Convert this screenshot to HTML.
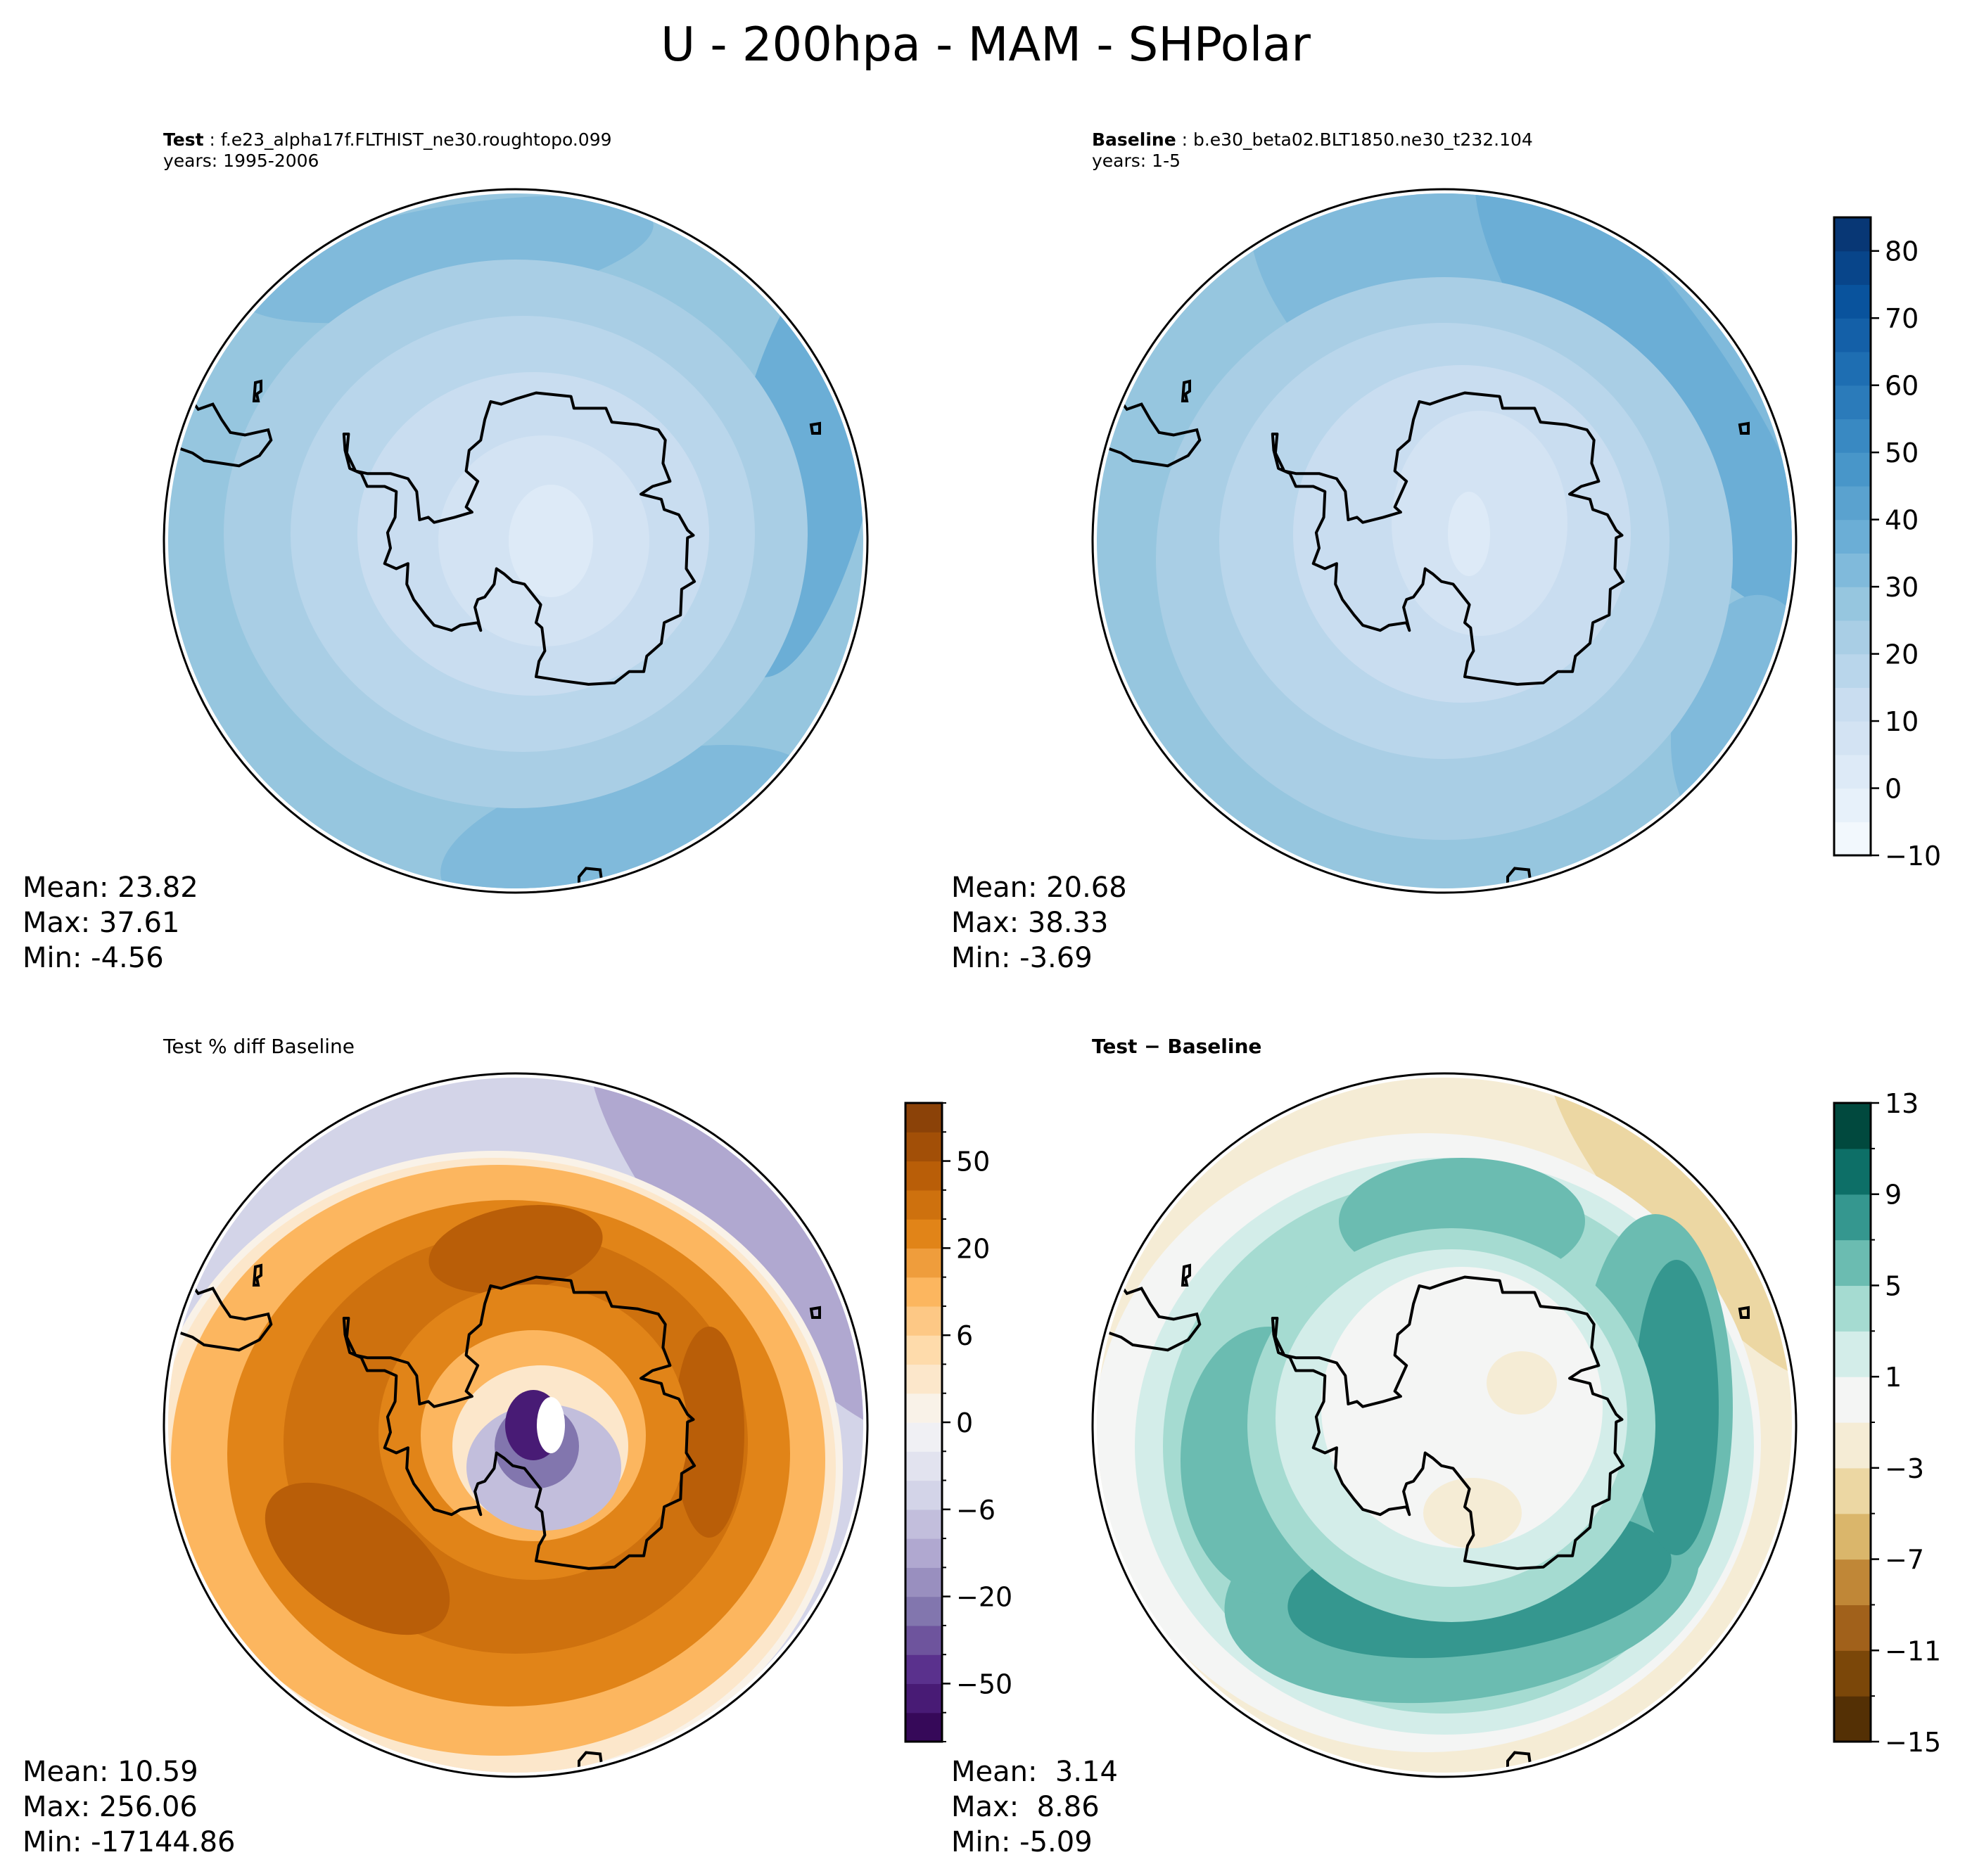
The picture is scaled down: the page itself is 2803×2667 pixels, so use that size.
<!DOCTYPE html>
<html><head><meta charset="utf-8">
<style>
html,body{margin:0;padding:0;background:#fff;}
svg{display:block;font-family:"DejaVu Sans","Liberation Sans",sans-serif;}
</style></head>
<body>
<svg id="fig" width="2803" height="2667" viewBox="0 0 2803 2667" xmlns="http://www.w3.org/2000/svg">
<text x="1401" y="86" text-anchor="middle" font-size="67" fill="#000">U - 200hpa - MAM - SHPolar</text>
<text x="232" y="207" font-size="25"><tspan font-weight="bold">Test</tspan> : f.e23_alpha17f.FLTHIST_ne30.roughtopo.099</text>
<text x="232" y="237" font-size="25">years: 1995-2006</text>
<text x="1552" y="207" font-size="25"><tspan font-weight="bold">Baseline</tspan> : b.e30_beta02.BLT1850.ne30_t232.104</text>
<text x="1552" y="237" font-size="25">years: 1-5</text>
<text x="232" y="1497" font-size="28">Test % diff Baseline</text>
<text x="1552" y="1497" font-size="28" font-weight="bold">Test − Baseline</text>
<g id="maps"></g>
<g id="bars"></g>
<g id="stats"></g>
</svg>
<script>
// ---- colorbar data ----
const blueLevels = [-10,-5,0,5,10,15,20,25,30,35,40,45,50,55,60,65,70,75,80,85];
const blueTicks = [-10,0,10,20,30,40,50,60,70,80];
const pctLevels = [-100,-75,-50,-40,-30,-20,-15,-10,-6,-4,-2,0,2,4,6,10,15,20,30,40,50,75,100];
const pctTicks = [-50,-20,-6,0,6,20,50];
const diffLevels = [-15,-13,-11,-9,-7,-5,-3,-1,1,3,5,7,9,11,13];
const diffTicks = [-15,-11,-7,-3,1,5,9,13];
const diffColors = ['#543005','#7b4709','#a1611b','#c08737','#dab66b','#ecd7a3','#f5ecd5','#f4f5f4','#d3ede9','#a5dbd1','#6bbcb1','#35978f','#0d6f67','#01493e'];
// ---- stats ----
const statsTest = ['Mean: 23.82','Max: 37.61','Min: -4.56'];
const statsBase = ['Mean: 20.68','Max: 38.33','Min: -3.69'];
const statsPct = ['Mean: 10.59','Max: 256.06','Min: -17144.86'];
const statsDiff = ['Mean:  3.14','Max:  8.86','Min: -5.09'];
// ---- contour blobs: [value, cx, cy, rx, ry, rotation] (normalized to map radius) ----
const fieldTest = [[27,0,0,1.2,1.2,0],[37,0.82,-0.22,0.2,0.62,12],[32,0.32,0.82,0.55,0.2,-15],[32,-0.2,-0.8,0.6,0.15,-10],
 [22,0,-0.02,0.83,0.78,0],[17,0.02,-0.02,0.66,0.62,0],[12,0.05,-0.02,0.5,0.46,0],[7,0.08,0,0.3,0.3,0],[2,0.1,0.0,0.12,0.16,0]];
const fieldBase = [[27,0,0,1.2,1.2,0],[32,0.3,-0.55,0.95,0.45,30],[37,0.58,-0.45,0.22,0.8,-35],[32,0.85,0.5,0.2,0.35,10],
 [22,0,0.05,0.82,0.8,0],[17,0,0,0.64,0.62,0],[12,0.05,-0.02,0.48,0.48,0],[7,0.1,-0.05,0.25,0.32,0],[2,0.07,-0.02,0.06,0.12,0]];
const fieldPct = [[-4,0,0,1.2,1.2,0],[-12,0.72,-0.55,0.22,0.75,-40],[1,-0.06,0.12,0.99,0.9,0],[4,-0.06,0.12,0.97,0.88,0],[12,-0.05,0.1,0.93,0.84,0],
 [25,-0.02,0.08,0.8,0.72,0],[35,0,0.05,0.66,0.6,0],[45,-0.45,0.38,0.3,0.16,35],[45,0.55,0.02,0.1,0.3,0],[45,0.0,-0.5,0.25,0.12,-10],
 [25,0.05,0.02,0.44,0.42,0],[12,0.05,0.03,0.32,0.3,0],[3,0.07,0.06,0.25,0.23,0],[-8,0.08,0.12,0.22,0.18,0],[-25,0.06,0.06,0.12,0.12,0],[-60,0.05,0.0,0.08,0.1,0],[-999,0.1,0.0,0.04,0.08,0]];
const fieldDiff = [[-2,0,0,1.2,1.2,0],[-4,0.7,-0.6,0.15,0.6,-40],[0,-0.05,0.05,0.95,0.88,0],[2,0,0.06,0.88,0.82,0],[4,0,0.06,0.8,0.76,0],
 [6,0.05,0.45,0.68,0.33,-8],[6,-0.5,0.1,0.25,0.38,0],[6,0.6,-0.05,0.22,0.55,0],[6,0.05,-0.58,0.35,0.18,0],
 [8,0.1,0.45,0.55,0.2,-8],[8,0.66,-0.05,0.12,0.42,0],[4,0.02,0.0,0.58,0.56,0],[2,0.02,-0.02,0.5,0.48,0],[0,0.05,-0.05,0.4,0.4,0],[-2,0.08,0.25,0.14,0.1,0],[-2,0.22,-0.12,0.1,0.09,0]];
// ---- coastline (normalized) ----
const ant = [[370,628],[378,628],[375,665],[390,700],[410,705],[450,705],[480,715],[495,740],[500,795],[515,790],[525,800],[560,790],[590,780],[580,770],[600,720],[580,700],[585,660],[605,640],[612,600],[622,565],[640,570],[665,560],[700,548],[760,555],[765,578],[820,578],[830,605],[875,610],[910,620],[922,640],[918,685],[930,720],[900,730],[880,745],[915,755],[920,775],[945,785],[960,815],[970,825],[960,830],[958,890],[972,915],[950,930],[948,980],[920,995],[915,1035],[890,1060],[885,1090],[860,1090],[835,1112],[790,1115],[745,1108],[700,1100],[705,1070],[715,1050],[710,1005],[700,995],[708,960],[680,920],[660,915],[645,900],[632,890],[628,920],[612,945],[600,950],[595,965],[605,1010],[600,995],[570,1000],[555,1010],[525,1000],[510,980],[490,950],[478,920],[480,880],[460,890],[440,880],[450,850],[445,820],[458,790],[460,740],[440,730],[410,730],[400,705],[380,695],[372,660]];
const sam = [[60,540],[110,565],[120,580],[145,570],[160,600],[175,625],[200,630],[240,620],[245,640],[225,670],[190,690],[160,685],[130,680],[110,665],[85,655],[40,650]];
const NS='http://www.w3.org/2000/svg';
function hex(c){return [1,3,5].map(i=>parseInt(c.substr(i,2),16));}
function interp(stops,t){t=Math.max(0,Math.min(1,t));const n=stops.length-1;const i=Math.min(n-1,Math.floor(t*n));const f=t*n-i;const a=hex(stops[i]),b=hex(stops[i+1]);return 'rgb('+a.map((v,k)=>Math.round(v+(b[k]-v)*f)).join(',')+')';}
const bluesStops=['#f7fbff','#deebf7','#c6dbef','#9ecae1','#6baed6','#4292c6','#2171b5','#08519c','#08306b'];
const puorStops=['#2d004b','#542788','#8073ac','#b2abd2','#d8daeb','#f7f7f7','#fee0b6','#fdb863','#e08214','#b35806','#7f3b08'];
const blueColors=blueLevels.slice(1).map((v,i)=>interp(bluesStops,(i+0.5)/(blueLevels.length-1)));
const pctColors=pctLevels.slice(1).map((v,i)=>interp(puorStops,(i+0.5)/(pctLevels.length-1)));
function colorFor(levels,colors,v){if(v<levels[0]||v>levels[levels.length-1])return '#ffffff';for(let i=0;i<colors.length;i++){if(v<=levels[i+1])return colors[i];}return colors[colors.length-1];}
function mk(tag,attrs,parent){const e=document.createElementNS(NS,tag);for(const k in attrs)e.setAttribute(k,attrs[k]);parent.appendChild(e);return e;}
const maps=document.getElementById('maps');
function coastPath(pts,cx,cy,r,close){return pts.map((p,i)=>(i?'L':'M')+(cx+(p[0]-665)/604*r).toFixed(1)+','+(cy+(p[1]-836)/684*r).toFixed(1)).join('')+(close?'Z':'');}
function drawMap(id,cx,cy,field,levels,colors,name){
  const g=mk('g',{},maps);
  
  
  const r=500;
  const cp=mk('clipPath',{id:'clip'+id},g);
  mk('circle',{cx:cx,cy:cy,r:r-6},cp);
  const inner=mk('g',{'clip-path':'url(#clip'+id+')'},g);
  field.forEach(b=>{
    const e=mk('ellipse',{cx:cx+b[1]*r,cy:cy+b[2]*r,rx:b[3]*r,ry:b[4]*r,fill:colorFor(levels,colors,b[0]),transform:'rotate('+b[5]+' '+(cx+b[1]*r)+' '+(cy+b[2]*r)+')'},inner);
    
    
  });
  const c1=mk('path',{d:coastPath(ant,cx,cy,r,true),fill:'none',stroke:'#000','stroke-width':4,'stroke-linejoin':'round'},inner);
  
  
  const c2=mk('path',{d:coastPath(sam,cx,cy,r,false),fill:'none',stroke:'#000','stroke-width':4},inner);
  
  
  const c3=mk('path',{d:'M'+(cx+0.18*r)+','+(cy+0.995*r)+'l0,-20l10,-12l20,2l3,22',fill:'none',stroke:'#000','stroke-width':4},inner);
  
  
  const c4=mk('path',{d:'M'+(cx-0.74*r)+','+(cy-0.45*r)+'l8,-2l0,14l-6,4l2,10l-6,0z',fill:'none',stroke:'#000','stroke-width':4},inner);
  
  
  const c5=mk('path',{d:'M'+(cx+0.84*r)+','+(cy-0.33*r)+'l12,-2l0,14l-10,0z',fill:'none',stroke:'#000','stroke-width':4},inner);
  
  
  const b=mk('circle',{cx:cx,cy:cy,r:r,fill:'none',stroke:'#000','stroke-width':3},g);
  
  
}
drawMap('a',733,769,fieldTest,blueLevels,blueColors,'test-map');
drawMap('b',2053,769,fieldBase,blueLevels,blueColors,'baseline-map');
drawMap('c',733,2026,fieldPct,pctLevels,pctColors,'pct-diff-map');
drawMap('d',2053,2026,fieldDiff,diffLevels,diffColors,'diff-map');
const bars=document.getElementById('bars');
function drawBar(x,y0,y1,levels,colors,ticks,minor,name){
  const g=mk('g',{},bars);
  
  
  const w=52,n=colors.length,h=(y1-y0)/n;
  colors.forEach((c,i)=>{const rct=mk('rect',{x:x,y:y1-(i+1)*h,width:w,height:h+0.6,fill:c},g);
    
    });
  mk('rect',{x:x,y:y0,width:w,height:y1-y0,fill:'none',stroke:'#000','stroke-width':3},g);
  const yOf=v=>{const i=levels.indexOf(v);return y1-i*h;};
  const linY=v=>y1-(v-levels[0])/(levels[levels.length-1]-levels[0])*(y1-y0);
  if(minor){levels.forEach(v=>{const yy=yOf(v);mk('line',{x1:x+w,x2:x+w+6,y1:yy,y2:yy,stroke:'#000','stroke-width':2},g);});}
  ticks.forEach(v=>{const yy=minor?yOf(v):linY(v);
    mk('line',{x1:x+w,x2:x+w+12,y1:yy,y2:yy,stroke:'#000','stroke-width':2.5},g);
    const t=mk('text',{x:x+w+20,y:yy+14,'font-size':38},g);
    t.textContent=String(v).replace('-','−');
    
    });
}
drawBar(2607,309,1216,blueLevels,blueColors,blueTicks,false,'baseline-colorbar');
drawBar(1287,1568,2476,pctLevels,pctColors,pctTicks,true,'pct-diff-colorbar');
drawBar(2607,1568,2476,diffLevels,diffColors,diffTicks,true,'diff-colorbar');
const stats=document.getElementById('stats');
function drawStats(x,y,lines,name){lines.forEach((s,i)=>{const t=mk('text',{x:x,y:y+i*50,'font-size':40,style:'white-space:pre'},stats);t.textContent=s;
  
  });}
drawStats(32,1275,statsTest,'test-stats');
drawStats(1352,1275,statsBase,'baseline-stats');
drawStats(32,2532,statsPct,'pct-diff-stats');
drawStats(1352,2532,statsDiff,'diff-stats');
</script>
</body></html>
